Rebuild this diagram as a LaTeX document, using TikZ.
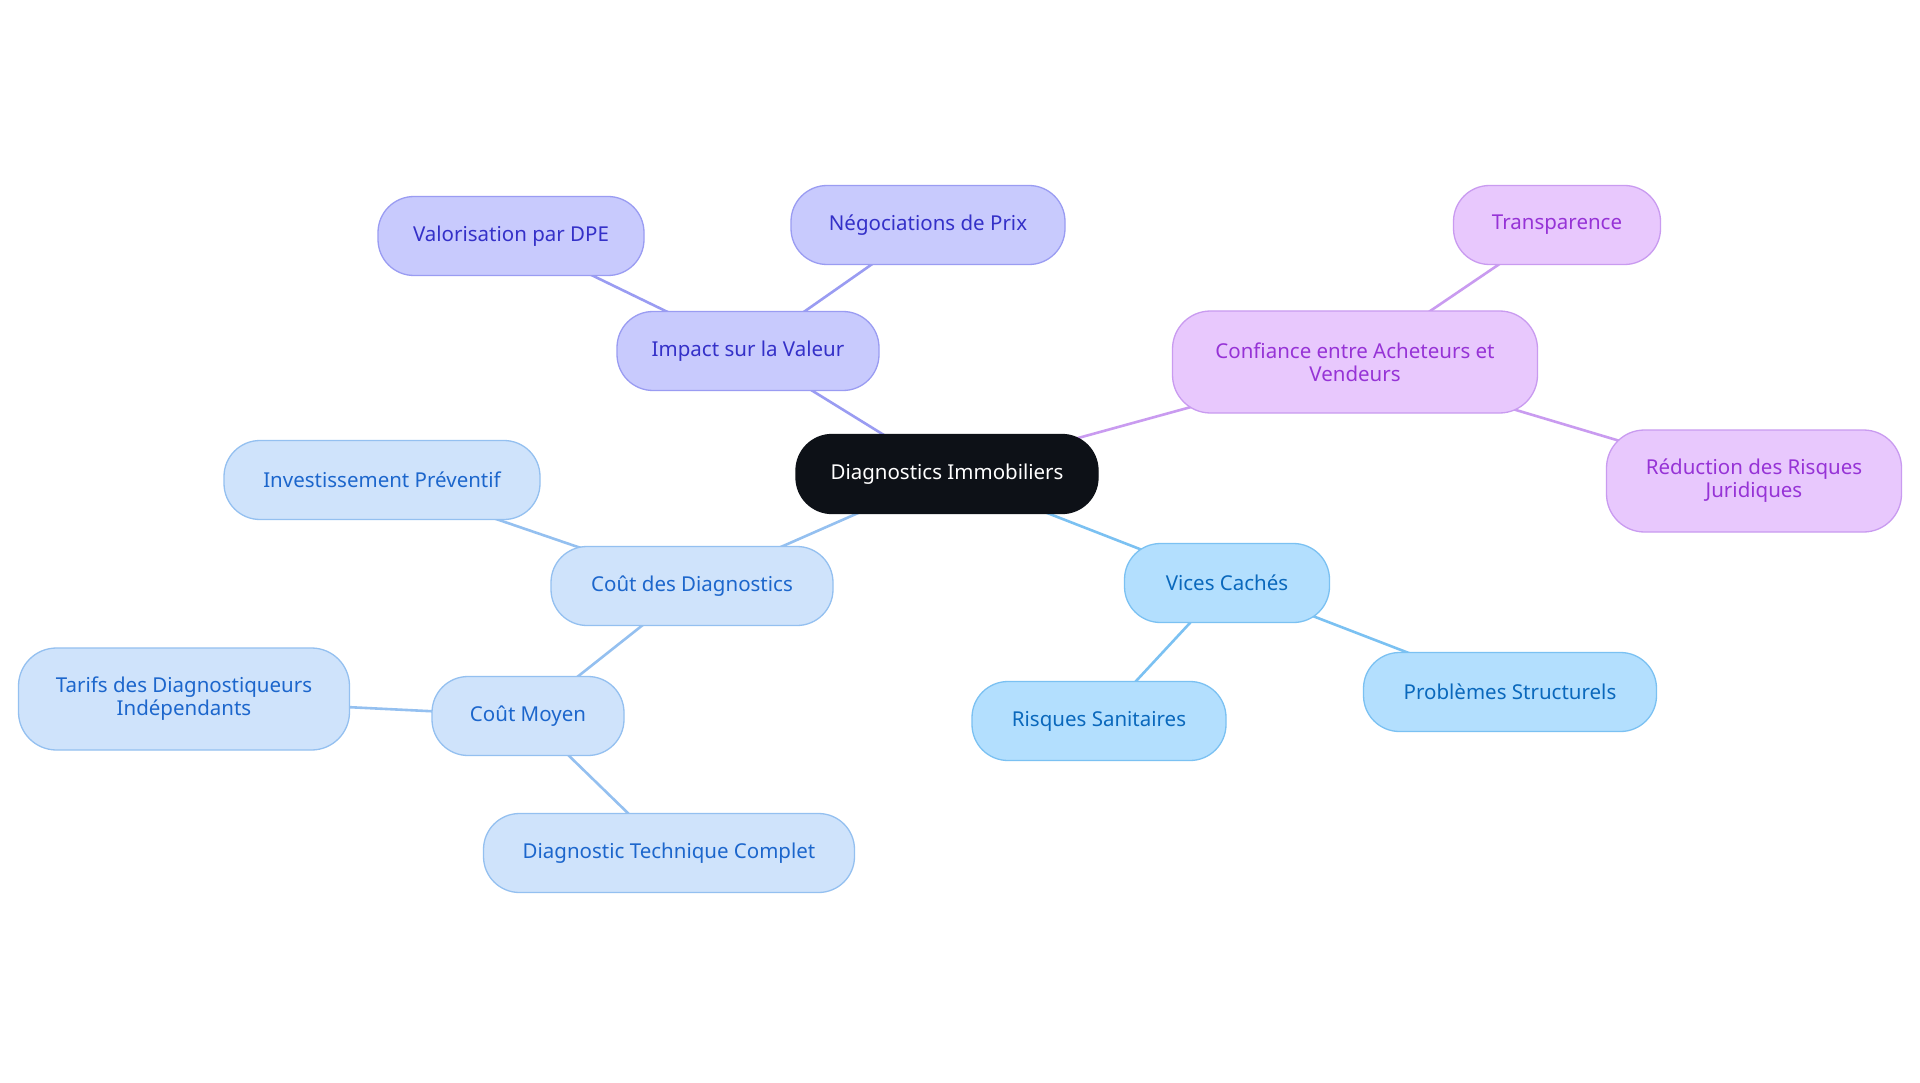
\documentclass[tikz,border=0pt]{standalone}
\usepackage{fontspec}
\setmainfont{Noto Sans}
\usetikzlibrary{backgrounds}
\definecolor{cenfill}{HTML}{0D1117}
\definecolor{vfill}{HTML}{C8CAFD}
\definecolor{vdraw}{HTML}{9A9CF2}
\definecolor{vtext}{HTML}{3430C8}
\definecolor{pfill}{HTML}{E8C8FD}
\definecolor{pdraw}{HTML}{C99BF0}
\definecolor{ptext}{HTML}{9633D6}
\definecolor{cfill}{HTML}{CFE3FB}
\definecolor{cdraw}{HTML}{94C0F0}
\definecolor{ctext}{HTML}{1C66CC}
\definecolor{bfill}{HTML}{B3DFFE}
\definecolor{bdraw}{HTML}{7BC1F2}
\definecolor{btext}{HTML}{0A68BC}
\tikzset{
  box/.style={draw, line width=1.3pt, rounded corners=36pt, minimum height=79pt,
    inner sep=0pt, align=center, font=\fontsize{20.5}{23}\selectfont},
  tall/.style={minimum height=102pt, rounded corners=38pt},
  cen/.style={box, fill=cenfill, draw=cenfill, text=white},
  vbox/.style={box, fill=vfill, draw=vdraw, text=vtext},
  pbox/.style={box, fill=pfill, draw=pdraw, text=ptext},
  cbox/.style={box, fill=cfill, draw=cdraw, text=ctext},
  bbox/.style={box, fill=bfill, draw=bdraw, text=btext},
  vedge/.style={draw=vdraw, line width=2.6pt},
  pedge/.style={draw=pdraw, line width=2.6pt},
  cedge/.style={draw=cdraw, line width=2.6pt},
  bedge/.style={draw=bdraw, line width=2.6pt},
}
\begin{document}
\begin{tikzpicture}[x=1pt, y=-1pt]
\useasboundingbox (0,0) rectangle (1920,1083);
\node[cen, minimum width=302pt] (c) at (947,474) {Diagnostics Immobiliers};
\node[vbox, minimum width=262pt] (iv) at (748,351) {Impact sur la Valeur};
\node[vbox, minimum width=266pt] (vd) at (511,236) {Valorisation par DPE};
\node[vbox, minimum width=274pt] (np) at (928,225) {Négociations de Prix};
\node[pbox, tall, minimum width=365pt] (ca) at (1355,362) {Confiance entre Acheteurs et\\Vendeurs};
\node[pbox, minimum width=207pt] (tr) at (1557,225) {Transparence};
\node[pbox, tall, minimum width=295pt] (rr) at (1754,481) {Réduction des Risques\\Juridiques};
\node[bbox, minimum width=205pt] (vc) at (1227,583) {Vices Cachés};
\node[bbox, minimum width=254pt] (rs) at (1099,721) {Risques Sanitaires};
\node[bbox, minimum width=293pt] (ps) at (1510,692) {Problèmes Structurels};
\node[cbox, minimum width=282pt] (cd) at (692,586) {Coût des Diagnostics};
\node[cbox, minimum width=316pt] (ip) at (382,480) {Investissement Préventif};
\node[cbox, minimum width=192pt] (cm) at (528,716) {Coût Moyen};
\node[cbox, tall, minimum width=331pt] (td) at (184,699) {Tarifs des Diagnostiqueurs\\Indépendants};
\node[cbox, minimum width=371pt] (dt) at (669,853) {Diagnostic Technique Complet};
\begin{scope}[on background layer]
\fill[white] (0,0) rectangle (1920,1083);
\draw[vedge] (c.center) -- (iv.center);
\draw[vedge] (iv.center) -- (vd.center);
\draw[vedge] (iv.center) -- (np.center);
\draw[pedge] (c.center) -- (ca.center);
\draw[pedge] (ca.center) -- (tr.center);
\draw[pedge] (ca.center) -- (rr.center);
\draw[bedge] (c.center) -- (vc.center);
\draw[bedge] (vc.center) -- (rs.center);
\draw[bedge] (vc.center) -- (ps.center);
\draw[cedge] (c.center) -- (cd.center);
\draw[cedge] (cd.center) -- (ip.center);
\draw[cedge] (cd.center) -- (cm.center);
\draw[cedge] (cm.center) -- (td.center);
\draw[cedge] (cm.center) -- (dt.center);
\end{scope}
\end{tikzpicture}
\end{document}
